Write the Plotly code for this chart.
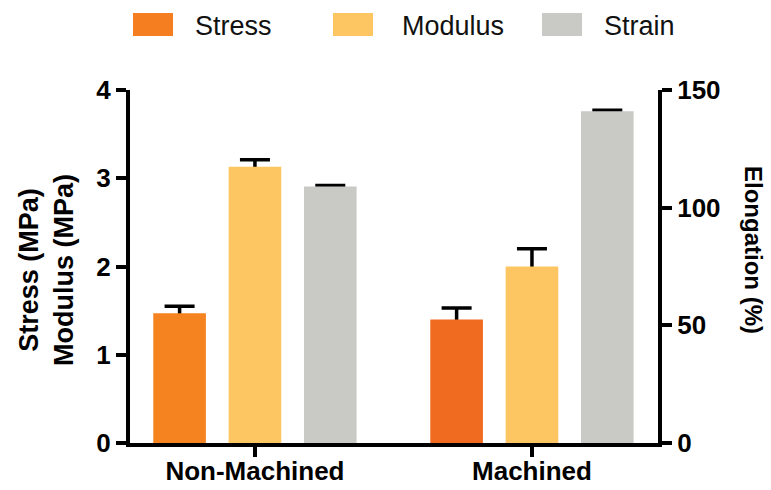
import plotly.graph_objects as go

# Sample groups
groups = ["Non-Machined", "Machined"]

# Mechanical properties (left axis, MPa)
stress = [1.47, 1.40]
stress_err = [0.08, 0.13]
modulus = [3.13, 2.00]
modulus_err = [0.08, 0.20]

# Elongation at break (right axis, %)
strain = [109, 141]
strain_err = [0.4, 0.4]

left_ticks = [0, 1, 2, 3, 4]
right_ticks = [0, 50, 100, 150]

series_names = ["Stress", "Modulus", "Strain"]
stress_colors = ["#F5831F", "#F06B1F"]
modulus_color = "#FDC663"
strain_color = "#C9C9C6"
legend_colors = ["#F47E20", modulus_color, strain_color]

FONT = "Liberation Sans, Arial, sans-serif"
W, H = 771, 490
ML, MR, MT, MB = 130, 113, 90, 47
PW, PH = W - ML - MR, H - MT - MB

BAR_W = 0.19
STEP = 0.272


def px_x(px):
    return (px - ML) / PW


def px_y(py):
    return (H - MB - py) / PH


fig = go.Figure()


def add_series(name, values, errors, color, offset, axis):
    # Transparent copy carries the error bars, so the solid bar drawn after it
    # covers the lower half and only the upper whisker shows.
    fig.add_trace(go.Bar(x=groups, y=values, marker_color="rgba(0,0,0,0)",
                         marker_line_width=0, width=BAR_W, offset=offset,
                         error_y=dict(type="data", array=errors, color="black",
                                      thickness=3.5, width=15),
                         yaxis=axis, hoverinfo="skip", showlegend=False))
    fig.add_trace(go.Bar(x=groups, y=values, name=name, marker_color=color,
                         marker_line_width=0, width=BAR_W, offset=offset, yaxis=axis))


add_series(series_names[0], stress, stress_err, stress_colors, -STEP - BAR_W / 2, "y")
add_series(series_names[1], modulus, modulus_err, modulus_color, -BAR_W / 2, "y")
add_series(series_names[2], strain, strain_err, strain_color, STEP - BAR_W / 2, "y2")

axis_common = dict(showline=True, linecolor="black", linewidth=4, ticks="outside",
                   ticklen=10, tickwidth=4, tickcolor="black", showgrid=False,
                   zeroline=False, automargin=False,
                   tickfont=dict(family=FONT, size=26, color="black", weight="bold"))

fig.update_layout(
    width=W, height=H,
    margin=dict(l=ML, r=MR, t=MT, b=MB, autoexpand=False),
    paper_bgcolor="white", plot_bgcolor="white",
    barmode="overlay", showlegend=False,
    xaxis=dict(type="category", range=[-0.451, 1.455], ticklabelstandoff=-8,
               **axis_common),
    yaxis=dict(range=[0, 4], tickvals=left_ticks, **axis_common),
    yaxis2=dict(range=[0, 150], tickvals=right_ticks, overlaying="y", side="right",
                **axis_common),
)

annotations = [
    dict(text="<b>Stress (MPa)<br>Modulus (MPa)</b>", textangle=-90,
         x=px_x(46), y=px_y(270), xanchor="center", yanchor="middle",
         font=dict(family=FONT, size=27, color="black")),
    dict(text="<b>Elongation (%)</b>", textangle=90,
         x=px_x(754), y=px_y(250), xanchor="center", yanchor="middle",
         font=dict(family=FONT, size=24, color="black")),
]

# Legend row across the top
swatch_left = [133, 333, 542]
text_left = [193, 400, 602]
shapes = []
for name, color, sx, tx in zip(series_names, legend_colors, swatch_left, text_left):
    shapes.append(dict(type="rect", xref="paper", yref="paper",
                       x0=px_x(sx), x1=px_x(sx + 40), y0=px_y(36), y1=px_y(13),
                       fillcolor=color, line_width=0))
    annotations.append(dict(text=name, x=px_x(tx), y=px_y(26), xanchor="left",
                            yanchor="middle", showarrow=False,
                            font=dict(family=FONT, size=27, color="#111111")))

for a in annotations:
    a.update(xref="paper", yref="paper", showarrow=False)

fig.update_layout(annotations=annotations, shapes=shapes)
fig.write_html("out.html")
